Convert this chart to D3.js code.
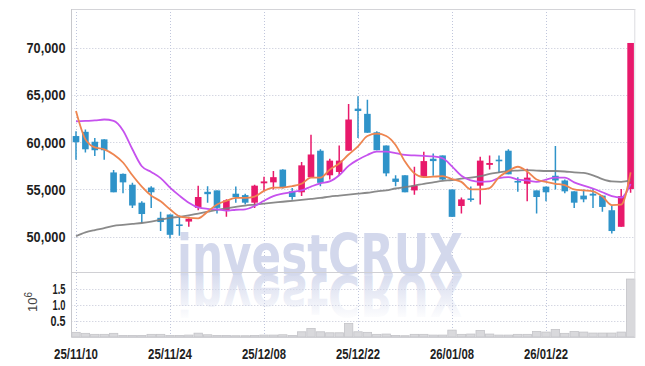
<!DOCTYPE html>
<html><head><meta charset="utf-8">
<script src="https://cdn.jsdelivr.net/npm/d3@7/dist/d3.min.js"></script>
<style>body{margin:0;background:#fff}svg{display:block}</style>
</head><body><svg id="c" width="645" height="366"></svg>
<script>
const dates = ["25/11/10","25/11/11","25/11/12","25/11/13","25/11/14","25/11/17","25/11/18","25/11/19","25/11/20","25/11/21",
"25/11/24","25/11/25","25/11/26","25/11/27","25/11/28","25/12/01","25/12/02","25/12/03","25/12/04","25/12/05",
"25/12/08","25/12/09","25/12/10","25/12/11","25/12/12","25/12/15","25/12/16","25/12/17","25/12/18","25/12/19",
"25/12/22","25/12/23","25/12/24","25/12/26","25/12/29","25/12/30","26/01/02","26/01/05","26/01/06","26/01/07",
"26/01/08","26/01/09","26/01/12","26/01/13","26/01/14","26/01/15","26/01/16","26/01/19","26/01/20","26/01/21",
"26/01/22","26/01/23","26/01/26","26/01/27","26/01/28","26/01/29","26/01/30","26/02/02","26/02/03","26/02/04"];
const openP  = [60650,61100,60050,60300,56800,56650,55500,53600,55200,52000, 52350,51300,51600,53050,54750,54900,52750,54550,54400,53600,
55650,55750,57100,54800,54700,56300,59100,56500,56850,59100, 63550,63000,61050,59650,56150,56500,54900,56350,58250,58600,
55000,53250,54050,55400,57600,58150,59100,55900,55600,54900, 55300,56450,55950,54800,54350,54550,54350,52800,51050,55050];
const highP  = [61150,61350,60450,60300,57050,56700,55700,53750,55350,52650, 52350,52250,52100,55400,55350,54900,53950,55300,54550,55500,
56350,56950,57150,55150,57900,60800,59250,58250,59650,64050, 64850,64500,61150,59650,56500,56500,57400,59000,58800,58600,
55000,54150,55300,58450,58600,58600,59250,56300,57200,54900, 55300,59600,56050,54800,55000,55050,54350,53250,55050,70500];
const lowP   = [58150,58900,58550,58150,54700,54600,53050,51450,53050,50600, 49800,50100,51050,52800,53600,52450,52100,53600,53400,53050,
54800,55000,55100,53900,54300,56300,55350,56050,56500,59100, 60450,61000,59150,56400,55350,54700,54450,56350,56450,56000,
52100,52450,53700,53400,57100,56750,56600,54750,53750,52450, 53750,55000,54600,53050,53650,53050,52650,50350,51050,54650];
const closeP = [60000,59250,59150,59150,54700,55750,53300,52400,54700,51550, 50200,51200,51900,54200,54500,53050,53850,54200,53600,55400,
55850,56300,55250,54200,57550,58700,55700,58050,58050,62400, 63300,61000,59150,56700,55800,54700,55400,58000,58000,56050,
52100,53950,53950,58050,57800,58000,56600,55800,56250,54200, 54700,55950,54800,53600,53950,54350,53150,50600,54300,70500];
const volume = [145000,114000,83000,83000,114000,50000,50000,50000,83000,83000, 50000,50000,60000,120000,70000,50000,50000,40000,40000,50000,
60000,60000,70000,50000,163000,268000,163000,132000,132000,420000, 163000,145000,83000,92000,50000,40000,83000,83000,60000,60000,
215000,83000,92000,206000,92000,60000,60000,83000,83000,175000, 154000,237000,114000,175000,154000,123000,123000,123000,154000,1810000];
const ma5 = [63300,60300,59450,59250,58700,57850,56500,55300,54350,53750, 52900,52150,52000,51950,52650,53400,53800,54100,54100,54250,
54850,55200,55200,55350,55600,56250,56250,57100,57750,58700, 59550,60650,60900,60650,59700,57950,56700,56300,56350,56400,
56100,55800,55000,55000,55150,56300,56950,57400,56900,56050, 55800,55600,55450,55000,54900,54800,54250,53350,53400,56800];
const ma10 = [62200,62250,62300,62400,62250,61250,59250,57450,56850,56200, 55200,54350,53600,53100,52950,52900,52750,52850,52900,53250,
53800,54300,54550,54750,54900,55300,55650,55850,56500,57500, 58150,58650,59000,59000,58850,58650,58600,58550,58500,58300,
57450,56450,55950,55800,55850,56200,56300,56050,55950,55800, 56050,56250,56250,55750,55400,55100,54700,54300,54150,55600];
const maLong = [50050,50450,50700,50900,51150,51250,51350,51450,51600,51800, 52000,52100,52250,52450,52650,52850,53000,53150,53300,53400,
53500,53600,53700,53800,53900,54000,54100,54250,54350,54450, 54550,54650,54800,54900,55100,55250,55400,55600,55750,55900,
56000,56150,56250,56400,56650,56800,56950,57000,57050,57000, 56950,56950,56900,56800,56750,56500,56100,55850,55800,55950];
const xTickLabels = ["25/11/10","25/11/24","25/12/08","25/12/22","26/01/08","26/01/22"];
const priceTicks = [50000,55000,60000,65000,70000];
const volTicks = [500000,1000000,1500000];

const W=645,H=366;
const L=71.3,R=635.3,T=9,PB=272,VT=272,VB=337;
const UP="#e8196b",DOWN="#2f93c9";
const FONT='"Liberation Sans",Arial,sans-serif';

const svg=d3.select("#c");
const x=d3.scaleBand().domain(dates).range([L,R]).padding(0);
const cx=d=>x(d)+x.bandwidth()/2;
const y=d3.scaleLinear().domain([46265,74095]).range([PB,T]);
const yv=d3.scaleLinear().domain([0,2030000]).range([VB,VT]);

const defs=svg.append("defs");
const grad=defs.append("linearGradient").attr("id","refl").attr("gradientUnits","userSpaceOnUse")
  .attr("x1",0).attr("x2",0).attr("y1",275).attr("y2",232);
grad.append("stop").attr("offset",0).attr("stop-color","#d3d8ec").attr("stop-opacity",0.9);
grad.append("stop").attr("offset",1).attr("stop-color","#d3d8ec").attr("stop-opacity",0.05);
defs.append("clipPath").attr("id","plotclip").append("rect").attr("x",L).attr("y",T).attr("width",R-L).attr("height",VB-T);

// gridlines
const grid=svg.append("g").attr("stroke","#c3c6d6").attr("stroke-dasharray","1,2").attr("stroke-width",1);
grid.selectAll(".hg").data(priceTicks).join("line").attr("x1",L).attr("x2",R).attr("y1",d=>Math.round(y(d))+0.5).attr("y2",d=>Math.round(y(d))+0.5);
grid.selectAll(".vg").data(volTicks).join("line").attr("x1",L).attr("x2",R).attr("y1",d=>Math.round(yv(d))+0.5).attr("y2",d=>Math.round(yv(d))+0.5);
grid.selectAll(".xg").data(xTickLabels).join("line").attr("stroke","#c0c6dc")
  .attr("x1",d=>Math.round(cx(d))+0.5).attr("x2",d=>Math.round(cx(d))+0.5).attr("y1",T).attr("y2",VB);

// watermark
const wm=svg.append("g").attr("clip-path","url(#plotclip)");
wm.append("text").attr("x",177).attr("y",275).text("investCRUX")
  .attr("font-family",'"DejaVu Sans",sans-serif').attr("font-weight","bold").attr("font-size",57)
  .attr("textLength",286).attr("lengthAdjust","spacingAndGlyphs").attr("fill","#d3d8ec");
wm.append("text").attr("x",177).attr("y",275).text("investCRUX")
  .attr("transform","translate(0,550) scale(1,-1)")
  .attr("font-family",'"DejaVu Sans",sans-serif').attr("font-weight","bold").attr("font-size",57)
  .attr("textLength",286).attr("lengthAdjust","spacingAndGlyphs").attr("fill","url(#refl)");

// volume bars
svg.append("g").selectAll("rect").data(dates).join("rect")
  .attr("x",d=>x(d)+0.5).attr("width",x.bandwidth()-1)
  .attr("y",(d,i)=>yv(volume[i])).attr("height",(d,i)=>VB-yv(volume[i]))
  .attr("fill","#d9d9dc").attr("stroke","#c4c4c8").attr("stroke-width",0.8);

// candles
const cg=svg.append("g").attr("clip-path","url(#plotclip)");
dates.forEach((d,i)=>{
  const o=openP[i],c=closeP[i],col=c>=o?UP:DOWN;
  cg.append("line").attr("x1",cx(d)).attr("x2",cx(d)).attr("y1",y(highP[i])).attr("y2",y(lowP[i]))
    .attr("stroke",col).attr("stroke-width",1.5);
  const top=y(Math.max(o,c)),bot=y(Math.min(o,c));
  cg.append("rect").attr("x",cx(d)-3.3).attr("width",6.6).attr("y",top).attr("height",Math.max(1.6,bot-top))
    .attr("fill",col);
});

// MA lines
const line=arr=>d3.line().x((d,i)=>cx(dates[i])).y(d=>y(d)).curve(d3.curveMonotoneX)(arr);
const lg=svg.append("g").attr("clip-path","url(#plotclip)").attr("fill","none").attr("stroke-linejoin","round");
lg.append("path").attr("d",line(maLong)).attr("stroke","#7d7d7d").attr("stroke-width",1.8).attr("opacity",0.9);
lg.append("path").attr("d",line(ma10)).attr("stroke","#c652ee").attr("stroke-width",1.8);
lg.append("path").attr("d",line(ma5)).attr("stroke","#ee8550").attr("stroke-width",1.8);

// frame
const fr=svg.append("g").attr("fill","none");
fr.append("line").attr("x1",L).attr("x2",R).attr("y1",T+0.5).attr("y2",T+0.5).attr("stroke","#d4d4d8");
fr.append("line").attr("x1",L).attr("x2",R).attr("y1",PB+0.5).attr("y2",PB+0.5).attr("stroke","#d0d0d4");
fr.append("line").attr("x1",R-0.5).attr("x2",R-0.5).attr("y1",T).attr("y2",VB).attr("stroke","#dcdce0");
fr.append("line").attr("x1",L).attr("x2",R).attr("y1",VB+0.5).attr("y2",VB+0.5).attr("stroke","#d0d0d4");

// axes
const fmt=d3.format(",");
const ay=svg.append("g").attr("transform",`translate(${Math.floor(L)+0.5},0)`)
  .call(d3.axisLeft(y).tickValues(priceTicks).tickSize(0).tickPadding(6).tickFormat(fmt));
const av=svg.append("g").attr("transform",`translate(${Math.floor(L)+0.5},0)`)
  .call(d3.axisLeft(yv).tickValues(volTicks).tickSize(0).tickPadding(6).tickFormat(d=>(d/1e6).toFixed(1)));
av.select(".domain").attr("d",`M0,${VT}V${VB}`);
ay.select(".domain").attr("d",`M0,${T}V${PB}`);
const ax=svg.append("g").attr("transform",`translate(0,${VB})`)
  .call(d3.axisBottom(x).tickValues(xTickLabels).tickSize(0).tickPadding(9));
ax.select(".domain").remove();
[ay,av,ax].forEach(g=>{
  g.selectAll(".domain").attr("stroke","#c8c8cc");
  g.selectAll("text").attr("font-family",FONT).attr("font-size",15).attr("font-weight","bold").attr("fill","#1e1e1e")
    .attr("lengthAdjust","spacingAndGlyphs");
});
ay.selectAll("text").attr("textLength",39);
av.selectAll("text").attr("textLength",d=>d<1e6?15:13);
ax.selectAll("text").attr("textLength",44).attr("dy","0.85em");

// 10^6 label
const ul=svg.append("text").attr("transform","translate(37,312) rotate(-90)")
  .attr("font-family",FONT).attr("font-size",13).attr("fill","#444");
ul.append("tspan").text("10");
ul.append("tspan").text("6").attr("dy",-5).attr("font-size",10);
</script></body></html>
